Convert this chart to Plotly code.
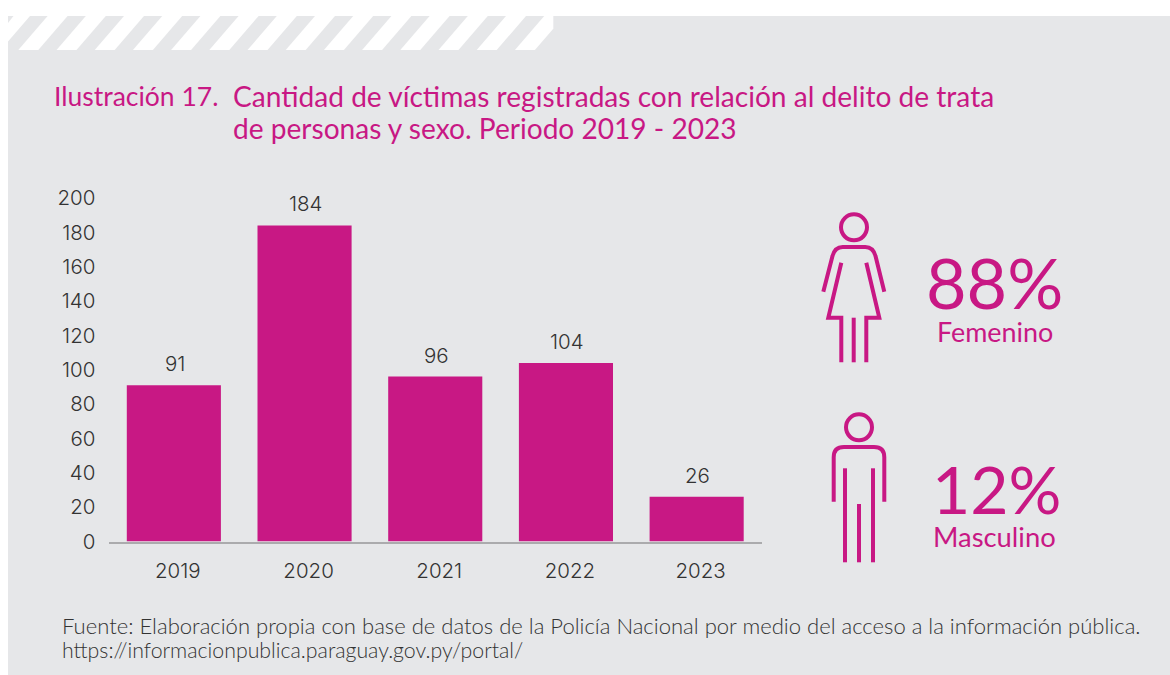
import plotly.graph_objects as go

years = ["2019", "2020", "2021", "2022", "2023"]
victims = [91, 184, 96, 104, 26]
y_ticks = [0, 20, 40, 60, 80, 100, 120, 140, 160, 180, 200]

MAGENTA = "#C81884"
PANEL = "#E6E7E9"
DARK = "#333333"
TITLE_FONT = "Lato"
NUM_FONT = "Inter"
num_font = dict(family=NUM_FONT, size=20.5, color=DARK, weight=300)

fig = go.Figure()
# x/y is a full-page pixel grid that holds the decoration; x2/y2 is the chart, drawn on top of it
fig.add_trace(go.Scatter(x=[0, 1170], y=[0, 675], xaxis="x", yaxis="y", mode="markers",
                         marker=dict(opacity=0), hoverinfo="skip", showlegend=False))
fig.add_trace(go.Bar(x=years, y=victims, xaxis="x2", yaxis="y2",
                     marker=dict(color=MAGENTA, line=dict(width=0)),
                     hoverinfo="skip", showlegend=False))

shapes = [dict(type="rect", xref="x", yref="y", x0=8, x1=1170, y0=16, y1=675,
               fillcolor=PANEL, line=dict(width=0), layer="below")]


def poly(points):
    d = "M" + " L".join(f"{a:.1f},{b:.1f}" for a, b in points) + " Z"
    shapes.append(dict(type="path", xref="x", yref="y", path=d, fillcolor="white",
                       line=dict(width=0), layer="below"))


# diagonal stripes across the top band
TOP, BOT, DX, W, PERIOD = 16, 50, 29.3, 20, 38.2
poly([(13.5, 16), (8, 23), (8, 41.5), (30, 16)])
for i in range(14):
    bl = 18.3 + i * PERIOD
    if i == 13:
        poly([(bl, BOT), (bl + W, BOT), (553.3, 28.7), (553.3, TOP), (bl + DX, TOP)])
    else:
        poly([(bl, BOT), (bl + W, BOT), (bl + W + DX, TOP), (bl + DX, TOP)])


def stroke(path):
    shapes.append(dict(type="path", xref="x", yref="y", path=path,
                       line=dict(color=MAGENTA, width=4), fillcolor="rgba(0,0,0,0)"))


def z(x, y, ox=800, oy=200):
    return f"{ox + x / 3:.1f},{oy + y / 3:.1f}"


def circle(cx, cy, r):
    shapes.append(dict(type="circle", xref="x", yref="y",
                       x0=800 + (cx - r) / 3, x1=800 + (cx + r) / 3,
                       y0=200 + (cy - r) / 3, y1=200 + (cy + r) / 3,
                       line=dict(color=MAGENTA, width=4), fillcolor="rgba(0,0,0,0)"))


# woman icon
circle(162, 82, 39)
stroke(f"M{z(70,275)} L{z(97,170)} Q{z(104,141)} {z(128,141)} L{z(196,141)} Q{z(220,141)} {z(227,170)} L{z(253,275)}")
stroke(f"M{z(124,188)} L{z(85,353)} L{z(124,353)} L{z(124,487)}")
stroke(f"M{z(161,353)} L{z(161,487)}")
stroke(f"M{z(199,188)} L{z(238,353)} L{z(199,353)} L{z(199,487)}")
# man icon
circle(177, 682, 39)
stroke(f"M{z(101,905)} L{z(101,772)} Q{z(101,741)} {z(132,741)} L{z(222,741)} Q{z(253,741)} {z(253,772)} L{z(253,905)}")
stroke(f"M{z(135,805)} L{z(135,1087)}")
stroke(f"M{z(177,912)} L{z(177,1087)}")
stroke(f"M{z(219,805)} L{z(219,1087)}")

ann = []


def text(s, x, y, size, color=MAGENTA, anchor="left", font=TITLE_FONT, weight=400):
    ann.append(dict(text=s, x=x, y=y, xref="x", yref="y", xanchor=anchor, yanchor="middle",
                    showarrow=False, font=dict(family=font, size=size, color=color, weight=weight)))


text("Ilustración 17.", 52, 96, 26.5)
text("Cantidad de víctimas registradas con relación al delito de trata", 231, 96, 28.1)
text("de personas y sexo. Periodo 2019 - 2023", 231, 128, 28.1)
text("88%", 994.5, 282, 70, anchor="center")
text("Femenino", 994.5, 331, 26.9, anchor="center")
text("12%", 996.5, 488, 66, anchor="center")
text("Masculino", 994.5, 536, 27.4, anchor="center")
text("Fuente: Elaboración propia con base de datos de la Policía Nacional por medio del acceso a la información pública.",
     60, 625, 22.05, color="#333333", weight=300)
text("https://informacionpublica.paraguay.gov.py/portal/", 60, 650, 21.3, color="#333333", weight=300)

# annotation x on a category axis is the category's position
for i, v in enumerate(victims):
    ann.append(dict(text=str(v), x=i, y=v, xref="x2", yref="y2", yanchor="bottom", showarrow=False,
                    yshift=7, xshift=1, font=num_font))

fig.update_layout(
    width=1170, height=675, margin=dict(l=0, r=0, t=0, b=0),
    paper_bgcolor="white", plot_bgcolor="rgba(0,0,0,0)", bargap=0.28,
    shapes=shapes, annotations=ann,
    xaxis2=dict(domain=[108.5 / 1170, 762 / 1170], anchor="y2", type="category", range=[-0.5, 4.5],
                automargin=False, showgrid=False, showline=True, linecolor="#ABABAD", linewidth=1.5,
                ticks="outside", ticklen=10, tickcolor="rgba(0,0,0,0)", ticklabelshift=4,
                tickfont=num_font, zeroline=False),
    yaxis2=dict(domain=[(675 - 541.5) / 675, (675 - 198) / 675], anchor="x2", range=[0, 200],
                automargin=False, tickvals=y_ticks, showgrid=False, zeroline=False, showline=False,
                ticks="outside", ticklen=8, tickcolor="rgba(0,0,0,0)", tickfont=num_font),
    xaxis=dict(domain=[0, 1], range=[0, 1170], anchor="y", visible=False, automargin=False),
    yaxis=dict(domain=[0, 1], range=[675, 0], anchor="x", visible=False, automargin=False),
)

fig.write_html("out.html", config=dict(displayModeBar=False),
               post_script="document.body.style.margin='0';document.body.style.overflow='hidden';")
